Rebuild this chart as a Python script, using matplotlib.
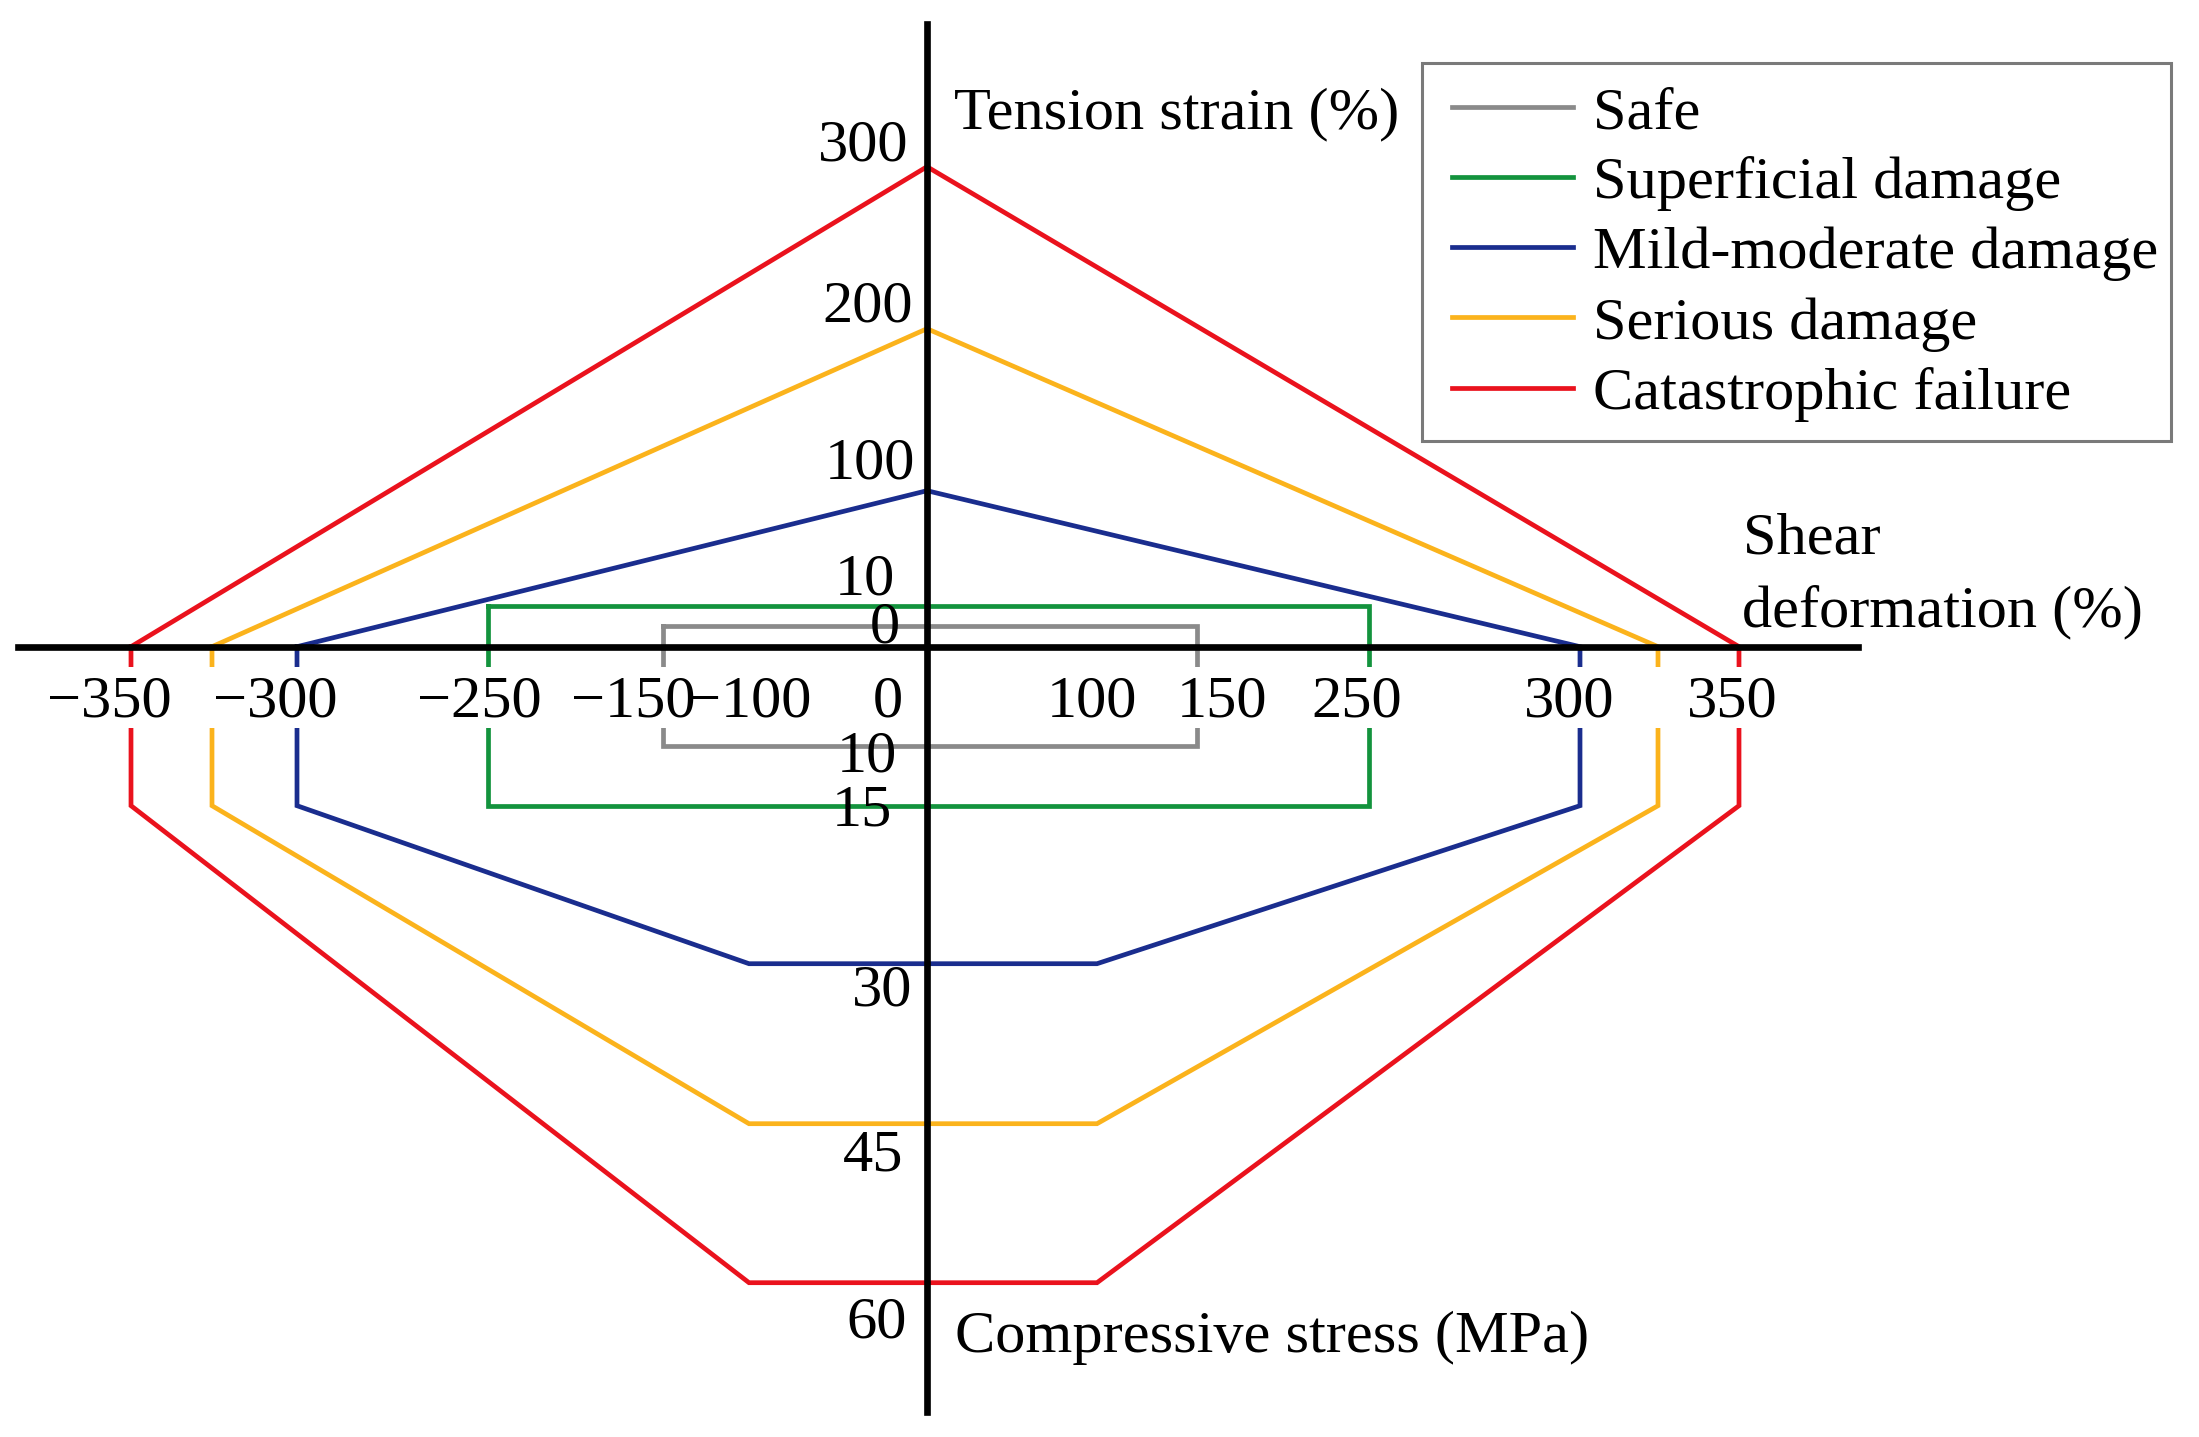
import numpy as np
import matplotlib
matplotlib.use('Agg')
import matplotlib.pyplot as plt
from matplotlib.patches import Rectangle

plt.rcParams['font.family'] = ['Liberation Serif', 'DejaVu Serif']

# damage levels and their limits
levels = ['Safe', 'Superficial damage', 'Mild-moderate damage',
          'Serious damage', 'Catastrophic failure']
colors = ['#8a8a8a', '#13933d', '#1a2d8e', '#fbb31c', '#ea121d']
shear_limit = [150, 250, 300, 325, 350]      # shear deformation (%)
tension_limit = [0, 10, 100, 200, 300]       # tension strain (%)
compress_limit = [10, 15, 30, 45, 60]        # compressive stress (MPa)
corner_stress = 15                           # stress at the outer corners
flat_shear = 100                             # half width of the flat bottom

x_ticks = [-350, -300, -250, -150, -100, 0, 100, 150, 250, 300, 350]
up_ticks = [300, 200, 100, 10, 0]
down_ticks = [10, 15, 30, 45, 60]

# schematic (non-linear) axes: value -> pixels from the origin
shear_knots = [-350, -325, -300, -250, -150, -100, 0, 100, 150, 250, 300, 325, 350]
shear_px = [-796, -715, -630, -439, -264, -178, 0, 170, 270, 442, 653, 731, 812]
tens_knots = [0, 10, 100, 200, 300]
tens_px = [21, 41, 156, 318, 480]
comp_knots = [10, 15, 30, 45, 60]
comp_px = [-99, -159, -317, -477, -636]


def sx(v):
    return np.interp(v, shear_knots, shear_px)


def ty(t):
    return np.interp(t, tens_knots, tens_px)


def cy(c):
    return np.interp(c, comp_knots, comp_px)


W, H = 2199, 1437
OX, OY = 927, 646.7
fig = plt.figure(figsize=(W / 100, H / 100), dpi=100)
ax = fig.add_axes([0, 0, 1, 1])
ax.set_xlim(-OX, W - OX)
ax.set_ylim(OY - H, OY)
ax.axis('off')

lines = []
for i, name in enumerate(levels):
    s, t, c = shear_limit[i], tension_limit[i], compress_limit[i]
    if i < 2:
        xs = [-s, s, s, -s, -s]
        ys = [ty(t), ty(t), cy(c), cy(c), ty(t)]
    else:
        xs = [-s, 0, s, s, flat_shear, -flat_shear, -s, -s]
        ys = [0, ty(t), 0, cy(corner_stress), cy(c), cy(c), cy(corner_stress), 0]
    ln, = ax.plot(sx(xs), ys, color=colors[i], lw=3.4, label=name,
                  solid_joinstyle='miter', zorder=1)
    lines.append(ln)

# white strip behind the shear tick labels
ax.axhspan(-81.6, -20.3, color='white', lw=0, zorder=2)

# axes
ax.plot([0, 0], [622.7, -765], color='black', lw=4.8, zorder=3)
ax.plot([-909, 931], [0, 0], color='black', lw=4.8, zorder=3)

fs = 43.5
xlab_nudge = [-22, -22, -9, -30, 0, -39, -5, 25, -12, -11, -7]
for v, dx in zip(x_ticks, xlab_nudge):
    lab = str(v).replace('-', '\u2212')
    ax.text(sx(v) + dx, -70, lab, fontsize=fs, ha='center', va='baseline', zorder=4)

up_dx = [-19, -14, -12, -32, -27]
up_dy = [6, 7, 12, 11, -17]
for v, dx, dy in zip(up_ticks, up_dx, up_dy):
    ax.text(dx, ty(v) + dy, str(v), fontsize=fs, ha='right', va='baseline', zorder=4)

dn_dx = [-30, -35, -15, -24, -20]
dn_dy = [-26, -20, -42, -47, -55]
for v, dx, dy in zip(down_ticks, dn_dx, dn_dy):
    ax.text(dx, cy(v) + dy, str(v), fontsize=fs, ha='right', va='baseline', zorder=4)

ax.text(27, 518.7, 'Tension strain (%)', fontsize=fs, ha='left', va='baseline')
ax.text(816, 93.4, 'Shear', fontsize=fs, ha='left', va='baseline')
ax.text(815, 20, 'deformation (%)', fontsize=fs, ha='left', va='baseline')
ax.text(28, -705, 'Compressive stress (MPa)', fontsize=fs, ha='left', va='baseline')

# legend box
ax.add_patch(Rectangle((494.7, 205.7), 749.3, 378.3, fill=False,
                       edgecolor='#7a7a7a', lw=2.2, zorder=5))
ax.legend(handles=lines, loc='upper left',
          bbox_to_anchor=(1451.7 / W, 1 - 86 / H), bbox_transform=fig.transFigure,
          fontsize=fs, frameon=False, borderaxespad=0, borderpad=0,
          labelspacing=0.245, handlelength=2.0, handletextpad=0.34)

fig.savefig('out.png', dpi=100)
